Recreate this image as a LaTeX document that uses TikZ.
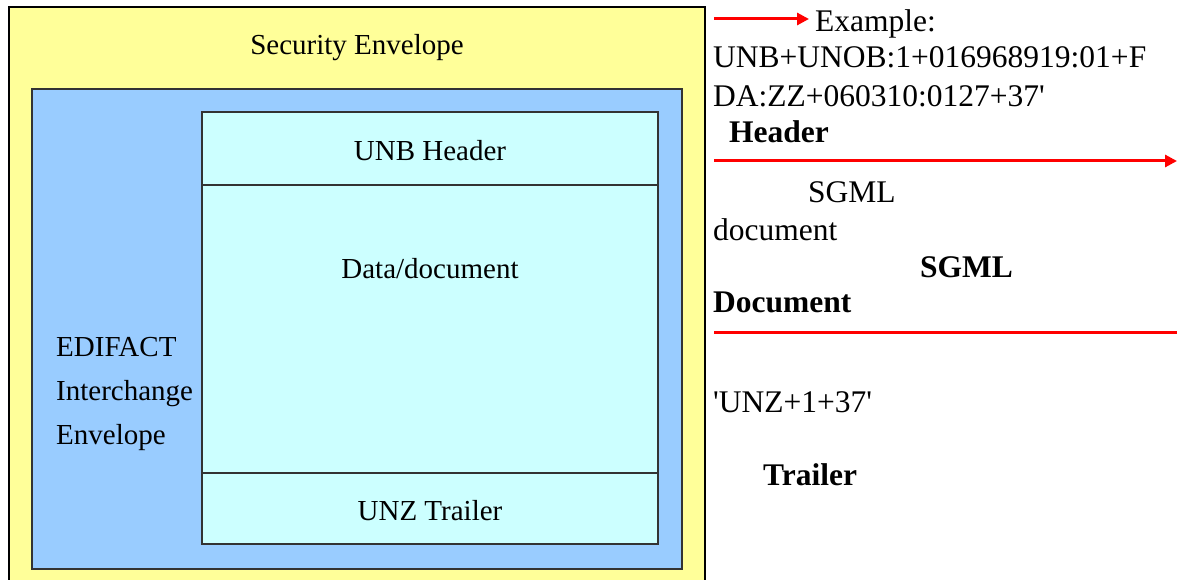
\documentclass[tikz,border=0pt]{standalone}
\usepackage{fontspec}
\setmainfont{Liberation Serif}
\usetikzlibrary{arrows.meta}

\definecolor{envyellow}{HTML}{FFFF99}
\definecolor{envblue}{HTML}{99CCFF}
\definecolor{envcyan}{HTML}{CCFFFF}

\begin{document}
\begin{tikzpicture}[x=1pt, y=-1pt,
    boxlabel/.style={font=\fontsize{29}{44}\selectfont},
    note/.style={anchor=base west, inner sep=0pt, font=\fontsize{31.5}{38}\selectfont},
    boldnote/.style={note, font=\fontsize{31.5}{38}\selectfont\bfseries},
    redline/.style={red, line width=3pt},
    redarrow/.style={redline, -{Triangle[length=12pt,width=12pt]}}]
        \useasboundingbox (0,0) rectangle (1177,580);

        % Draw the nested envelopes
        \filldraw[fill=envyellow, draw=black, line width=2pt] (9,7) rectangle (705,600);
        \filldraw[fill=envblue, draw=black!80, line width=2pt] (32,89) rectangle (682,569);
        \filldraw[fill=envcyan, draw=black!80, line width=2pt] (202,112) rectangle (658,544);
        \draw[black!80, line width=2pt] (202,185) -- (658,185);
        \draw[black!80, line width=2pt] (202,473) -- (658,473);

        % Label the envelopes
        \node[boxlabel] (security) at (357,48) {Security Envelope};
        \node[boxlabel] (unbheader) at (430,151) {UNB Header};
        \node[boxlabel] (datadoc) at (430,269) {Data/document};
        \node[boxlabel] (unztrailer) at (430,511) {UNZ Trailer};
        \node[boxlabel, align=left, anchor=west, inner sep=0pt] (edifact) at (56,394) {EDIFACT\\Interchange\\Envelope};

        % Notes on the right
        \node[note] (example) at (815,32) {Example:};
        \node[note] (unbline) at (713,68) {UNB+UNOB:1+016968919:01+F};
        \node[note] (daline) at (713,107) {DA:ZZ+060310:0127+37\textquotesingle};
        \node[boldnote] (header) at (729,143) {Header};
        \node[note] (sgml) at (808,203) {SGML};
        \node[note] (document) at (713,240) {document};
        \node[boldnote] (sgmlbold) at (920,277) {SGML};
        \node[boldnote] (documentbold) at (713,312) {Document};
        \node[note] (unzline) at (713,412) {\textquotesingle UNZ+1+37\textquotesingle};
        \node[boldnote] (trailer) at (763,485) {Trailer};

        % Red arrows and rule
        \coordinate (arrowone) at (714,19);
        \coordinate (arrowtwo) at (714,161);
        \coordinate (arrowtwoend) at (1177,161);
        \coordinate (ruleone) at (714,332);
        \coordinate (ruleoneend) at (1177,332);
        \draw[redarrow] (arrowone) -- ([xshift=-6pt]arrowone -| example.west);
        \draw[redarrow] (arrowtwo) -- (arrowtwoend);
        \draw[redline] (ruleone) -- (ruleoneend);

    \end{tikzpicture}
\end{document}
